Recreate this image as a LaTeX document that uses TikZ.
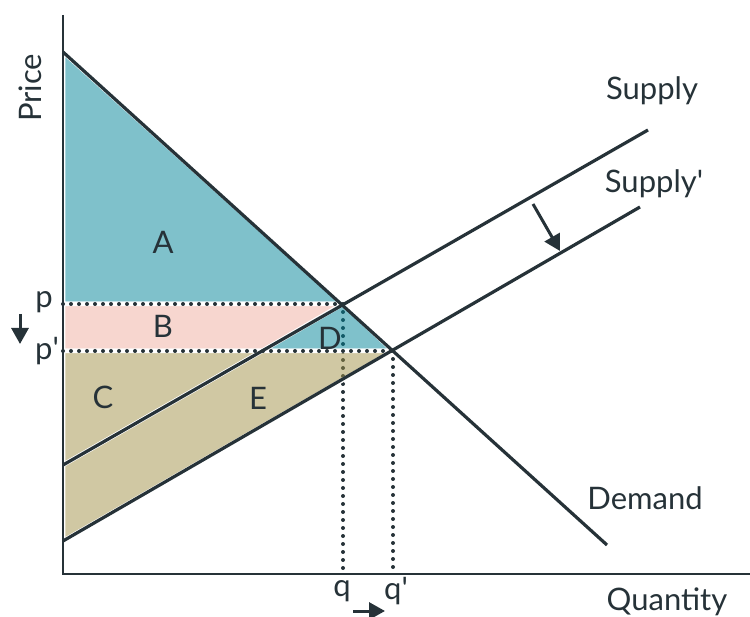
\documentclass[tikz,border=0pt]{standalone}
\usepackage{fontspec}
\setmainfont{Lato}
\usetikzlibrary{arrows.meta}
\definecolor{ink}{HTML}{263238}
\definecolor{tealA}{RGB}{0,131,151}
\definecolor{pinkB}{RGB}{239,173,159}
\definecolor{tanC}{RGB}{161,145,71}
\begin{document}
\begin{tikzpicture}[x=1pt, y=-1pt,
      curve/.style={draw=ink, line width=3.2pt},
      axis/.style={draw=ink, line width=2.4pt},
      area/.style={fill=#1, fill opacity=0.5},
      gap/.style={draw=white, line width=4.5pt, line join=round},
      guide/.style={draw=ink, line width=4pt, line cap=round, dash pattern=on 0pt off 8pt},
      arr/.style={draw=ink, line width=3pt, -{Triangle[length=16pt, width=17pt]}},
      lbl/.style={font=\fontsize{31}{36}\selectfont, text=ink, inner sep=0pt}]
    \useasboundingbox (0,0) rectangle (750,617);
    % key points
    \coordinate (o) at (63,574);
    \coordinate (ytop) at (63,15);
    \coordinate (xend) at (750,574);
    \coordinate (d0) at (63,52);
    \coordinate (d1) at (607,545);
    \coordinate (s0) at (63,465);
    \coordinate (s1) at (648,130);
    \coordinate (t0) at (63,541);
    \coordinate (t1) at (640,207);
    \coordinate (eq) at (343,304);
    \coordinate (eqn) at (393,351);
    \coordinate (py) at (63,304);
    \coordinate (pny) at (63,351);
    \coordinate (cut) at (262,351);
    \coordinate (qx) at (343,574);
    \coordinate (qnx) at (393,574);
    % quantity guides (under the areas)
    \draw[guide] (eq) -- (qx);
    \draw[guide] (eqn) -- (qnx);
    % welfare areas
    \fill[area=tealA] (d0) -- (eq) -- (py) -- cycle;
    \draw[gap] (d0) -- (eq) -- (py) -- cycle;
    \fill[area=pinkB] (py) -- (eq) -- (cut) -- (pny) -- cycle;
    \draw[gap] (py) -- (eq) -- (cut) -- (pny) -- cycle;
    \fill[area=tealA] (cut) -- (eq) -- (eqn) -- cycle;
    \draw[gap] (cut) -- (eq) -- (eqn) -- cycle;
    \fill[area=tanC] (pny) -- (cut) -- (s0) -- cycle;
    \draw[gap] (pny) -- (cut) -- (s0) -- cycle;
    \fill[area=tanC] (cut) -- (eqn) -- (t0) -- (s0) -- cycle;
    \draw[gap] (cut) -- (eqn) -- (t0) -- (s0) -- cycle;
    % price guides
    \draw[guide] (py) -- (eq);
    \draw[guide] (pny) -- (eqn);
    % axes
    \draw[axis] (ytop) -- (o) -- (xend);
    % curves
    \draw[curve] (d0) -- (d1);
    \draw[curve] (s0) -- (s1);
    \draw[curve] (t0) -- (t1);
    % labels
    \node[lbl] (la) at (163,242) {A};
    \node[lbl] (lb) at (163,326) {B};
    \node[lbl] (lc) at (103,397) {C};
    \node[lbl] (ld) at (330,338) {D};
    \node[lbl] (le) at (258,398) {E};
    \node[lbl] (supply) at (652,91) {Supply};
    \node[lbl] (supplyn) at (654,184) {Supply\textquotesingle};
    \node[lbl] (demand) at (645,498) {Demand};
    \node[lbl, rotate=90] (price) at (30,88) {Price};
    \node[lbl] (quantity) at (667,602) {Quantity};
    \node[lbl] (p) at (44,302) {p};
    \node[lbl] (pn) at (47,351) {p\textquotesingle};
    \node[lbl] (q) at (342,591) {q};
    \node[lbl] (qn) at (396,591) {q\textquotesingle};
    % shift arrows
    \coordinate (pa0) at (20,314);
    \coordinate (pa1) at (20,344);
    \coordinate (qa0) at (353,611);
    \coordinate (qa1) at (385,611);
    \coordinate (sa0) at (533,204);
    \coordinate (sa1) at (560,251);
    \draw[arr] (pa0) -- (pa1);
    \draw[arr] (qa0) -- (qa1);
    \draw[arr] (sa0) -- (sa1);
  \end{tikzpicture}
\end{document}
